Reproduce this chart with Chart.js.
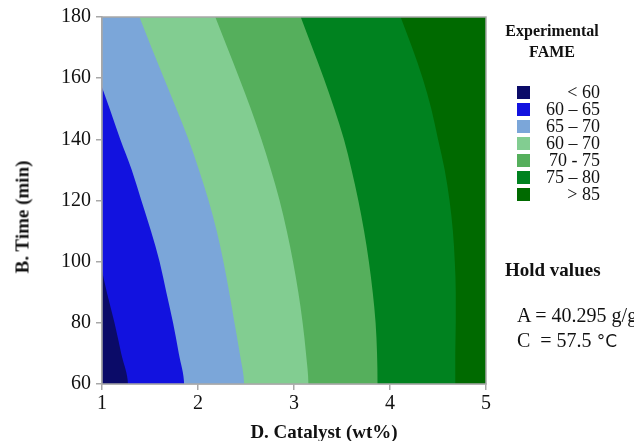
<!DOCTYPE html>
<html>
<head>
<meta charset="utf-8">
<script src="https://cdn.jsdelivr.net/npm/chart.js@4/dist/chart.umd.min.js"></script>
<style>
  html, body { margin: 0; padding: 0; background: #fff; }
  #wrap { position: relative; width: 634px; height: 441px; overflow: hidden; font-family: 'Liberation Serif', 'Times New Roman', serif; color: #111; }
  #plot { position: absolute; left: 0; top: 0; }
  .lbl { position: absolute; white-space: nowrap; line-height: 1; }
  .bold { font-weight: bold; }
  #yTitle { left: 22px; top: 217px; font-size: 19px; transform: translate(-50%, -50%) rotate(-90deg); }
  #xTitle { left: 324px; top: 431px; font-size: 19px; transform: translate(-50%, -50%); }
  #legTitle { left: 552px; top: 20px; font-size: 16px; text-align: center; line-height: 21px; transform: translateX(-50%); }
  #legend { position: absolute; left: 517px; top: 84px; width: 83px; }
  .row { display: flex; align-items: center; height: 17px; }
  .sw { width: 13px; height: 13px; flex: none; }
  .row span { flex: 1; text-align: right; font-size: 18px; line-height: 17px; }
  #holdTitle { left: 505px; top: 260px; font-size: 19px; }
  .hold { left: 517px; font-size: 20px; }
  .deg { font-family: 'DejaVu Sans', sans-serif; font-size: 17px; }
</style>
</head>
<body>
<div id="wrap">
  <canvas id="plot" width="634" height="441"></canvas>
  <div class="lbl bold" id="yTitle">B. Time (min)</div>
  <div class="lbl bold" id="xTitle">D. Catalyst (wt%)</div>
  <div class="lbl bold" id="legTitle">Experimental<br>FAME</div>
  <div id="legend"></div>
  <div class="lbl bold" id="holdTitle">Hold values</div>
  <div class="lbl hold" style="top:305px">A = 40.295 g/g</div>
  <div class="lbl hold" style="top:330px">C &nbsp;= 57.5 <span class="deg">°C</span></div>
</div>
<script>
'use strict';
// axes
const catalystTicks = [1, 2, 3, 4, 5];
const timeTicks = [60, 80, 100, 120, 140, 160, 180];

// FAME bands, left (low) to right (high)
const bandLabels = ['< 60', '60 – 65', '65 – 70', '60 – 70', '70 - 75', '75 – 80', '> 85'];
const bandColors = ['#0b0b68', '#1212df', '#7ba6d9', '#82cd91', '#55af5c', '#00821f', '#006a00'];

// contour lines as [catalyst wt%, time min], top to bottom
const contour60 = [[1.00, 97], [1.05, 90], [1.13, 80], [1.20, 70], [1.27, 60]];
const contour65 = [[1.00, 157], [1.08, 150], [1.19, 140], [1.31, 130], [1.41, 120], [1.51, 110],
  [1.60, 100], [1.67, 90], [1.74, 80], [1.80, 70], [1.855, 60]];
const contour70 = [[1.39, 180], [1.515, 170], [1.645, 160], [1.775, 150], [1.90, 140], [2.01, 130], [2.11, 120],
  [2.195, 110], [2.265, 100], [2.325, 90], [2.38, 80], [2.435, 70], [2.48, 60]];
const contour75 = [[2.18, 180], [2.305, 170], [2.43, 160], [2.55, 150], [2.66, 140], [2.76, 130], [2.85, 120],
  [2.925, 110], [2.99, 100], [3.045, 90], [3.09, 80], [3.125, 70], [3.15, 60]];
const contour80 = [[3.07, 180], [3.19, 170], [3.31, 160], [3.42, 150], [3.52, 140], [3.60, 130], [3.67, 120],
  [3.73, 110], [3.78, 100], [3.82, 90], [3.85, 80], [3.865, 70], [3.87, 60]];
const contour85 = [[4.11, 180], [4.23, 170], [4.34, 160], [4.43, 150], [4.50, 140], [4.57, 130], [4.62, 120],
  [4.655, 110], [4.675, 100], [4.685, 90], [4.685, 80], [4.68, 70], [4.68, 60]];

const xMin = catalystTicks[0], xMax = catalystTicks[catalystTicks.length - 1];
const yMin = timeTicks[0], yMax = timeTicks[timeTicks.length - 1];

// region left of a contour, closed along the left axis
const leftOf = c => {
  const pts = c.map(([x, y]) => ({ x, y }));
  pts.push({ x: xMin, y: yMin }, { x: xMin, y: c[0][1] });
  return pts;
};
const wholeArea = [{ x: xMin, y: yMax }, { x: xMax, y: yMax }, { x: xMax, y: yMin }, { x: xMin, y: yMin }];

const regions = [contour60, contour65, contour70, contour75, contour80, contour85].map(leftOf);
regions.push(wholeArea);

// dataset 0 is painted last, so the narrow left bands sit on top.
// monotone along y keeps the contour smooth and the axis edges straight
const datasets = regions.map((pts, i) => ({
  label: bandLabels[i],
  data: pts,
  indexAxis: 'y',
  showLine: true,
  fill: 'shape',
  backgroundColor: bandColors[i],
  borderWidth: 0,
  pointRadius: 0,
  cubicInterpolationMode: 'monotone'
}));

const frame = {
  id: 'frame',
  afterDatasetsDraw(chart) {
    const { ctx, chartArea: a } = chart;
    ctx.save();
    ctx.strokeStyle = '#a8a8a8';
    ctx.lineWidth = 1.5;
    ctx.strokeRect(a.left, a.top, a.right - a.left, a.bottom - a.top);
    ctx.restore();
  }
};

const tickFont = { family: "'Liberation Serif', 'Times New Roman', serif", size: 20 };

new Chart(document.getElementById('plot'), {
  type: 'scatter',
  data: { datasets },
  plugins: [frame],
  options: {
    responsive: false,
    animation: false,
    layout: { padding: { top: 17, right: 148, left: 0, bottom: 0 } },
    plugins: { legend: { display: false }, tooltip: { enabled: false } },
    scales: {
      x: {
        type: 'linear', min: xMin, max: xMax,
        afterBuildTicks: s => { s.ticks = catalystTicks.map(v => ({ value: v })); },
        afterFit: s => { s.height = 57; },
        ticks: { color: '#111', font: tickFont, padding: 2 },
        grid: { drawOnChartArea: false, drawTicks: true, tickLength: 6, color: '#a8a8a8', lineWidth: 1.5 },
        border: { color: '#a8a8a8', width: 1.5 }
      },
      y: {
        type: 'linear', min: yMin, max: yMax,
        afterBuildTicks: s => { s.ticks = timeTicks.map(v => ({ value: v })); },
        afterFit: s => { s.width = 102; },
        ticks: { color: '#111', font: tickFont, padding: 5 },
        grid: { drawOnChartArea: false, drawTicks: true, tickLength: 6, color: '#a8a8a8', lineWidth: 1.5 },
        border: { color: '#a8a8a8', width: 1.5 }
      }
    }
  }
});

// legend swatches from the same band colours
document.getElementById('legend').innerHTML = bandLabels.map((t, i) =>
  `<div class="row"><div class="sw" style="background:${bandColors[i]}"></div><span>${t}</span></div>`
).join('');
</script>
</body>
</html>
